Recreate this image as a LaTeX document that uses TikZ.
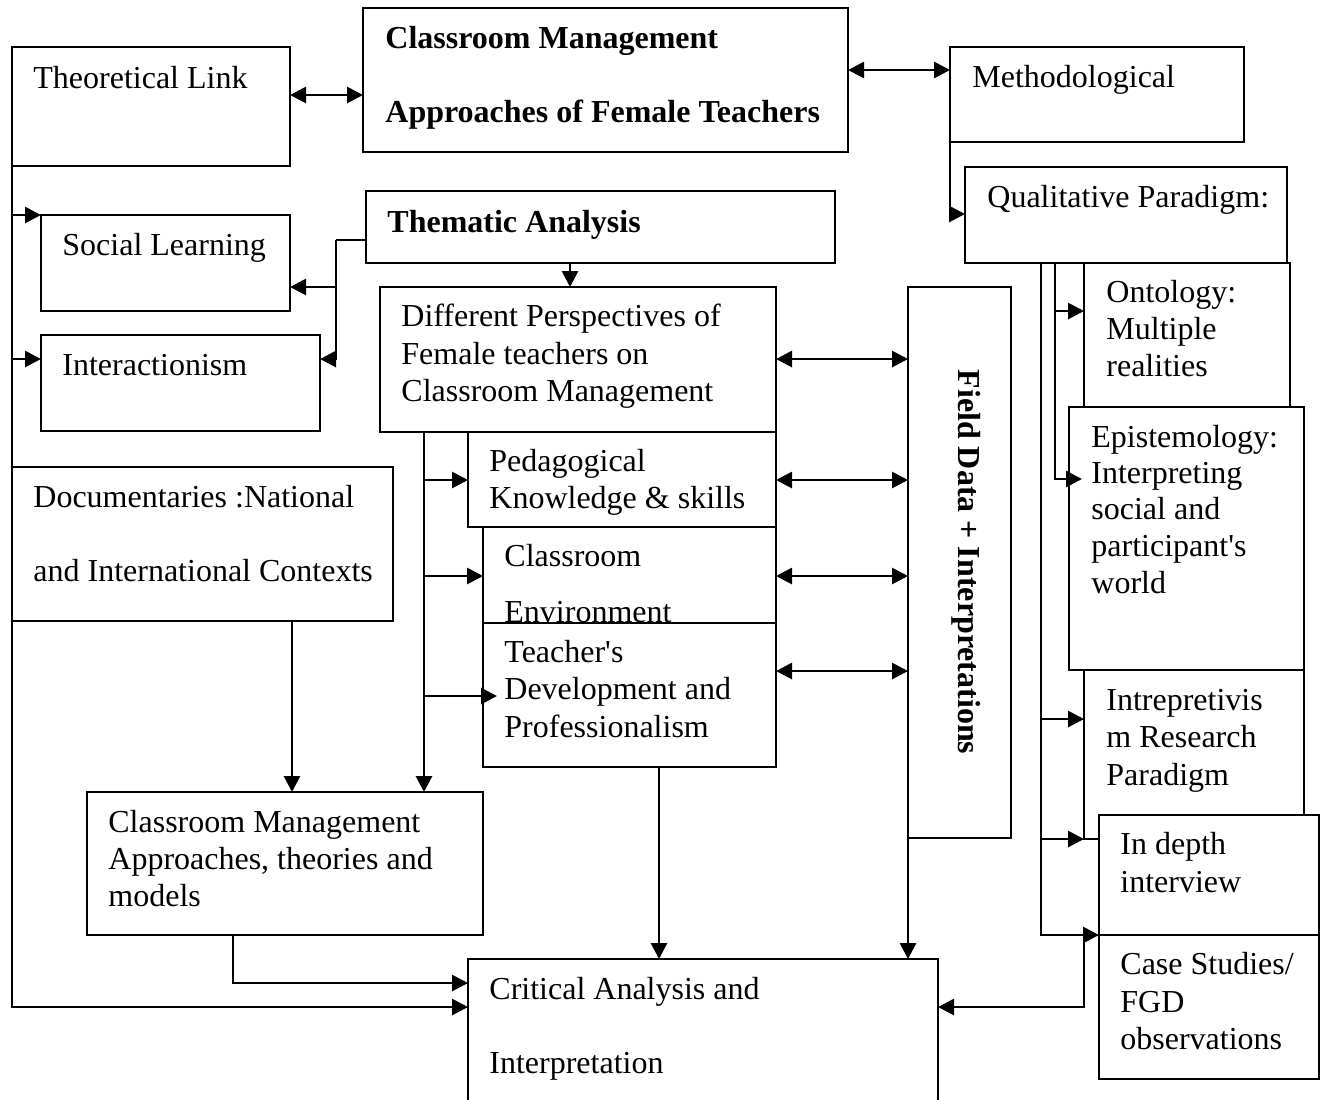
\documentclass[tikz,border=0pt]{standalone}
\usepackage{fontspec}
\setmainfont{Liberation Serif}
\usetikzlibrary{arrows.meta}
\tikzset{
  box/.style={draw, line width=1pt, fill=white, anchor=north west, inner sep=0pt, outer sep=0pt},
  txt/.style={anchor=base west, inner sep=0pt, font=\fontsize{16}{19}\selectfont},
  btxt/.style={anchor=base west, inner sep=0pt, font=\fontsize{16}{19}\selectfont\bfseries},
  conn/.style={line width=1.4pt, -{Triangle[length=8pt,width=8pt]}},
  dconn/.style={line width=1.4pt, {Triangle[length=8pt,width=8pt]}-{Triangle[length=8pt,width=8pt]}},
  plain/.style={line width=1.4pt}
}
\newcommand\diabox[5]{\node[box, minimum width=#4*0.5pt-#2*0.5pt, minimum height=#5*0.5pt-#3*0.5pt] (#1) at (#2,#3) {};}
\begin{document}
\begin{tikzpicture}[x=0.5pt,y=-0.5pt]
\useasboundingbox[fill=white] (0,0) rectangle (1325,1099);

% boxes and texts
\diabox{tl}{12}{47}{290}{166}
\node[txt] (tlt) at (33,88) {Theoretical Link};

\diabox{cm}{363}{8}{848}{152}
\node[btxt] (cmt1) at (385,48) {Classroom Management};
\node[btxt] (cmt2) at (385,122) {Approaches of Female Teachers};

\diabox{me}{950}{47}{1244}{142}
\node[txt] (met) at (972,87) {Methodological};

\diabox{qp}{965}{167}{1287}{263}
\node[txt] (qpt) at (987,207) {Qualitative Paradigm:};

\diabox{sl}{41}{215}{290}{311}
\node[txt] (slt) at (62,255) {Social Learning};

\diabox{ia}{41}{335}{320}{431}
\node[txt] (iat) at (62,375) {Interactionism};

\diabox{th}{366}{191}{835}{263}
\node[btxt] (tht) at (387,232) {Thematic Analysis};

\diabox{dp}{380}{287}{776}{432}
\node[txt] (dpt1) at (401,326) {Different Perspectives of};
\node[txt] (dpt2) at (401,364) {Female teachers on};
\node[txt] (dpt3) at (401,401) {Classroom Management};

\diabox{pk}{468}{432}{776}{527}
\node[txt] (pkt1) at (489,471) {Pedagogical};
\node[txt] (pkt2) at (489,508) {Knowledge \& skills};

\diabox{ce}{483}{527}{776}{623}
\node[txt] (cet1) at (504,566) {Classroom};
\node[txt] (cet2) at (504,622) {Environment};

\diabox{td}{483}{623}{776}{767}
\node[txt] (tdt1) at (504,662) {Teacher\textquotesingle s};
\node[txt] (tdt2) at (504,699) {Development and};
\node[txt] (tdt3) at (504,737) {Professionalism};

\diabox{dc}{12}{467}{393}{621}
\node[txt] (dct1) at (33,507) {Documentaries :National};
\node[txt] (dct2) at (33,581) {and International Contexts};

\diabox{ca}{87}{792}{483}{935}
\node[txt] (cat1) at (108,832) {Classroom Management};
\node[txt] (cat2) at (108,869) {Approaches, theories and};
\node[txt] (cat3) at (108,906) {models};

\diabox{fd}{908}{287}{1011}{838}
\node[inner sep=0pt, rotate=-90, font=\fontsize{16}{19}\selectfont\bfseries] (fdt) at (966,562) {Field Data + Interpretations};

\diabox{on}{1084}{263}{1290}{430}
\node[txt] (ont1) at (1106,302) {Ontology:};
\node[txt] (ont2) at (1106,339) {Multiple};
\node[txt] (ont3) at (1106,376) {realities};

\diabox{ep}{1069}{407}{1304}{670}
\node[txt] (ept1) at (1091,447) {Epistemology:};
\node[txt] (ept2) at (1091,483) {Interpreting};
\node[txt] (ept3) at (1091,519) {social and};
\node[txt] (ept4) at (1091,556) {participant\textquotesingle s};
\node[txt] (ept5) at (1091,593) {world};

\diabox{ip}{1084}{670}{1304}{839}
\node[txt] (ipt1) at (1106,710) {Intrepretivis};
\node[txt] (ipt2) at (1106,747) {m Research};
\node[txt] (ipt3) at (1106,785) {Paradigm};

\diabox{id}{1099}{815}{1319}{935}
\node[txt] (idt1) at (1120,854) {In depth};
\node[txt] (idt2) at (1120,892) {interview};

\diabox{cs}{1099}{935}{1319}{1079}
\node[txt] (cst1) at (1120,974) {Case Studies/};
\node[txt] (cst2) at (1120,1012) {FGD};
\node[txt] (cst3) at (1120,1049) {observations};

\diabox{cr}{468}{959}{938}{1120}
\node[txt] (crt1) at (489,999) {Critical Analysis and};
\node[txt] (crt2) at (489,1073) {Interpretation};

% connectors
\draw[dconn] (tl.east |- 0,95) -- (cm.west |- 0,95);
\draw[dconn] (cm.east |- 0,70) -- (me.west |- 0,70);
\draw[conn] (me.west |- 0,119) -- (me.west |- 0,214) -- (qp.west |- 0,214);

% left trunk
\coordinate (lt) at (tl.south west);
\draw[conn] (lt) -- (lt |- 0,1007) -- (cr.west |- 0,1007);
\draw[conn] (lt |- sl.north west) -- (sl.north west);
\draw[conn] (lt |- 0,359) -- (ia.west |- 0,359);

% thematic branch
\coordinate (tj) at (336,240);
\draw[plain] (th.west |- tj) -- (tj);
\draw[conn] (tj) -- (tj |- 0,359) -- (ia.east |- 0,359);
\draw[conn] (tj |- 0,287) -- (sl.east |- 0,287);
\draw[conn] (th.south -| 570,0) -- (dp.north -| 570,0);

% perspectives trunk
\coordinate (dj) at (dp.south -| 424,0);
\draw[conn] (dj) -- (ca.north -| dj);
\draw[conn] (dj |- 0,480) -- (pk.west |- 0,480);
\draw[conn] (dj |- 0,576) -- (ce.west |- 0,576);
\coordinate (tdtip) at (497,696);
\draw[conn] (dj |- tdtip) -- (tdtip);

% double arrows to field data
\draw[dconn] (dp.east |- 0,359) -- (fd.west |- 0,359);
\draw[dconn] (pk.east |- 0,480) -- (fd.west |- 0,480);
\draw[dconn] (ce.east |- 0,576) -- (fd.west |- 0,576);
\draw[dconn] (td.east |- 0,671) -- (fd.west |- 0,671);

% down to critical analysis
\draw[conn] (dc.south -| 292,0) -- (ca.north -| 292,0);
\draw[conn] (ca.south -| 233,0) |- (cr.west |- 0,983);
\draw[conn] (td.south -| 659,0) -- (cr.north -| 659,0);
\draw[conn] (fd.west |- 0,695) -- (cr.north -| fd.west);

% qualitative trunks
\coordinate (q1) at (qp.south -| 1055,0);
\coordinate (eptip) at (1082,479);
\draw[conn] (q1) |- (eptip);
\draw[conn] (q1 |- 0,311) -- (on.west |- 0,311);
\coordinate (q2) at (qp.south -| 1041,0);
\draw[conn] (q2) |- (cs.north west);
\draw[conn] (q2 |- 0,719) -- (ip.west |- 0,719);
\draw[conn] (q2 |- 0,839) -- (ip.west |- 0,839);
\draw[conn] (ip.west |- cs.north west) |- (cr.east |- 0,1007);
\end{tikzpicture}
\end{document}
